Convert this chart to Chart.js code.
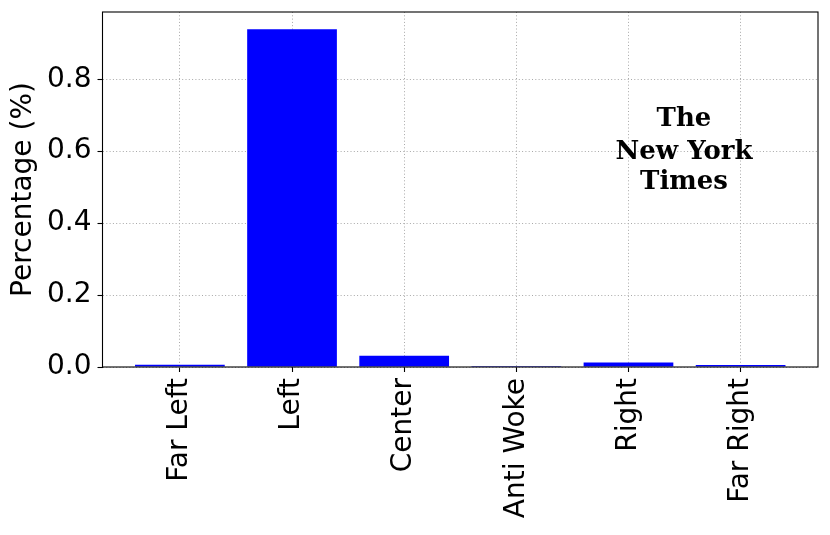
<!DOCTYPE html>
<html>
<head>
<meta charset="utf-8">
<script src="https://cdn.jsdelivr.net/npm/chart.js@4/dist/chart.umd.min.js"></script>
<style>
  html, body { margin: 0; padding: 0; background: #fff; }
  #wrap { width: 830px; height: 535px; }
</style>
</head>
<body>
<div id="wrap"><canvas id="bias-chart" width="830" height="535"></canvas></div>
<script>
// share of articles per political leaning
const categories = ['Far Left', 'Left', 'Center', 'Anti Woke', 'Right', 'Far Right'];
const percentages = [0.0064, 0.939, 0.031, 0.003, 0.0128, 0.0056];
const yTicks = [0, 0.2, 0.4, 0.6, 0.8];
const logoLines = ['The', 'New York', 'Times'];

const FONT = 'DejaVu Sans';
const SIZE = 28;

// frame round the plot area + the newspaper name
const framePlugin = {
  id: 'frame',
  afterDraw(chart) {
    const { ctx, chartArea: a } = chart;
    ctx.save();
    ctx.strokeStyle = '#000';
    ctx.lineWidth = 1.1;
    ctx.strokeRect(a.left, a.top, a.right - a.left, a.bottom - a.top);

    ctx.fillStyle = '#000';
    ctx.textAlign = 'center';
    ctx.textBaseline = 'middle';
    ctx.font = 'bold 26px "DejaVu Serif"';
    const cx = 684;
    const ys = [119, 152, 182];
    logoLines.forEach((t, i) => ctx.fillText(t, cx, ys[i]));
    ctx.restore();
  }
};

const gridOpts = {
  color: '#a8a8a8',
  lineWidth: 1,
  offset: false,
  drawTicks: true,
  tickLength: 5,
  tickColor: '#000',
  tickWidth: 1.1,
  tickBorderDash: []
};

new Chart(document.getElementById('bias-chart'), {
  type: 'bar',
  data: {
    datasets: [{
      data: percentages.map((v, i) => ({ x: i, y: v })),
      backgroundColor: '#0000ff',
      borderWidth: 0,
      categoryPercentage: 0.8,
      barPercentage: 1.0
    }]
  },
  options: {
    responsive: false,
    animation: false,
    layout: { padding: { left: 0, right: 12, top: 12, bottom: 0 } },
    plugins: { legend: { display: false }, tooltip: { enabled: false } },
    scales: {
      x: {
        type: 'linear',
        min: -0.69,
        max: 5.69,
        offset: false,
        z: 1,
        afterBuildTicks: s => { s.ticks = categories.map((c, i) => ({ value: i })); },
        afterFit: s => { s.height = 168; s.paddingLeft = 0; s.paddingRight = 0; },
        ticks: {
          color: '#000',
          font: { family: FONT, size: SIZE },
          minRotation: 90,
          maxRotation: 90,
          padding: 6,
          autoSkip: false,
          callback: v => categories[v]
        },
        grid: gridOpts,
        border: { display: false, dash: [1, 2.3] }
      },
      y: {
        min: 0,
        max: 0.987,
        z: 1,
        afterBuildTicks: s => { s.ticks = yTicks.map(v => ({ value: v })); },
        afterFit: s => { s.width = 102.5; s.paddingTop = 0; s.paddingBottom = 0; },
        ticks: {
          color: '#000',
          font: { family: FONT, size: SIZE },
          padding: 6,
          callback: v => v.toFixed(1)
        },
        grid: gridOpts,
        border: { display: false, dash: [1, 2.3] },
        title: {
          display: true,
          text: 'Percentage (%)',
          color: '#000',
          font: { family: FONT, size: SIZE },
          padding: { top: 7, bottom: 0 }
        }
      }
    }
  },
  plugins: [framePlugin]
});
</script>
</body>
</html>
